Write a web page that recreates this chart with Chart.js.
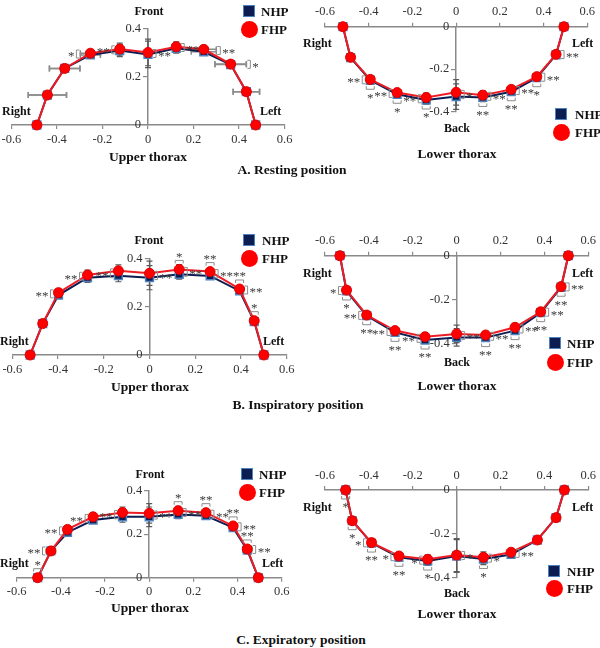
<!DOCTYPE html>
<html>
<head>
<meta charset="utf-8">
<script src="https://cdn.jsdelivr.net/npm/chart.js@4.4.1/dist/chart.umd.min.js"></script>
<style>
  body { margin: 0; background: #fff; }
  #fig { position: relative; width: 600px; height: 648px; overflow: hidden; font-family: "Liberation Serif", "Times New Roman", serif; }
  #fig canvas { position: absolute; }
  .t { position: absolute; white-space: nowrap; font-weight: bold; color: #111; line-height: 1; }
  .sq { position: absolute; width: 10px; height: 10px; background: #0b1d51; border: 1.5px solid #4f81bd; }
  .dot { position: absolute; width: 17px; height: 17px; border-radius: 50%; background: #ff0000; }
  .warm { position: absolute; left: -100px; top: -100px; font-family: "Liberation Serif"; }
</style>
</head>
<body>
<div id="fig"></div>
<span class="warm">0.2 *</span>
<script>
"use strict";

const seriesNames = ["NHP", "FHP"];
const xTicks = [-0.6, -0.4, -0.2, 0, 0.2, 0.4, 0.6];

// A. resting position
const restUpperX   = [-0.488, -0.442, -0.366, -0.253, -0.124, 0, 0.124, 0.245, 0.363, 0.432, 0.473];
const restUpperNhp = [0, 0.124, 0.234, 0.290, 0.308, 0.292, 0.317, 0.303, 0.250, 0.138, 0];
const restUpperFhp = [0, 0.124, 0.234, 0.297, 0.314, 0.300, 0.324, 0.313, 0.252, 0.138, 0];
const restUpperXErr = [0, 0.084, 0.067, 0.044, 0, 0, 0, 0.055, 0.069, 0.058, 0];
const restUpperYErr = [0, 0, 0.01, 0.015, 0.025, 0.055, 0.02, 0.015, 0.01, 0, 0];
const restUpperSig = [[3, "left", "*"], [4, "left", "**"], [5, "right", "**"], [6, "right", "**"], [7, "right", "**"], [8, "right", "*"]];

const restLowerX   = [-0.518, -0.483, -0.393, -0.270, -0.137, 0, 0.122, 0.252, 0.369, 0.457, 0.493];
const restLowerNhp = [0, -0.146, -0.252, -0.318, -0.345, -0.329, -0.333, -0.306, -0.240, -0.132, 0];
const restLowerFhp = [0, -0.144, -0.248, -0.310, -0.333, -0.309, -0.322, -0.295, -0.235, -0.130, 0];
const restLowerXErr = [0, 0, 0, 0, 0, 0, 0, 0, 0, 0, 0];
const restLowerYErr = [0, 0, 0, 0.01, 0.02, 0.06, 0.02, 0.015, 0.01, 0, 0];
const restLowerSig = [[2, "left", "**"], [2, "bottom", "*"], [3, "left", "**"], [3, "bottom", "*"], [4, "left", "**"], [4, "bottom", "*"],
  [5, "right", "*"], [6, "bottom", "**"], [6, "right", "**"], [7, "bottom", "**"], [7, "right", "**"], [8, "bottom", "*"], [8, "right", "**"], [9, "right", "**"]];

// B. inspiratory position
const inspUpperX   = [-0.522, -0.467, -0.398, -0.271, -0.136, 0, 0.130, 0.265, 0.394, 0.458, 0.500];
const inspUpperNhp = [0, 0.130, 0.248, 0.320, 0.328, 0.320, 0.334, 0.327, 0.265, 0.138, 0];
const inspUpperFhp = [0, 0.130, 0.258, 0.331, 0.348, 0.338, 0.354, 0.345, 0.273, 0.142, 0];
const inspUpperXErr = [0, 0.01, 0, 0, 0, 0, 0, 0, 0, 0.01, 0];
const inspUpperYErr = [0, 0, 0.01, 0.02, 0.025, 0.05, 0.02, 0.01, 0.01, 0, 0];
const inspUpperSig = [[2, "left", "**"], [3, "left", "**"], [4, "left", "**"], [5, "right", "**"], [6, "top", "*"], [6, "right", "**"],
  [7, "top", "**"], [7, "right", "**"], [8, "top", "**"], [8, "right", "**"], [9, "top", "*"]];

const inspLowerX   = [-0.532, -0.502, -0.410, -0.281, -0.144, 0, 0.132, 0.266, 0.383, 0.476, 0.509];
const inspLowerNhp = [0, -0.161, -0.274, -0.350, -0.385, -0.373, -0.374, -0.342, -0.260, -0.144, 0];
const inspLowerFhp = [0, -0.157, -0.271, -0.342, -0.370, -0.357, -0.362, -0.327, -0.256, -0.141, 0];
const inspLowerXErr = [0, 0, 0, 0, 0, 0, 0, 0, 0, 0, 0];
const inspLowerYErr = [0, 0, 0, 0.01, 0.015, 0.04, 0.015, 0.01, 0, 0, 0];
const inspLowerSig = [[1, "left", "*"], [1, "bottom", "*"], [2, "left", "**"], [2, "bottom", "**"], [3, "left", "**"], [3, "bottom", "**"],
  [4, "left", "**"], [4, "bottom", "**"], [5, "right", "**"], [6, "bottom", "**"], [6, "right", "**"], [7, "bottom", "**"], [7, "right", "**"],
  [8, "bottom", "**"], [8, "right", "**"], [9, "bottom", "**"], [9, "right", "**"]];

// C. expiratory position
const expUpperX   = [-0.505, -0.445, -0.370, -0.254, -0.121, 0, 0.131, 0.257, 0.380, 0.444, 0.494];
const expUpperNhp = [0, 0.123, 0.208, 0.265, 0.280, 0.280, 0.291, 0.285, 0.230, 0.127, 0];
const expUpperFhp = [0, 0.123, 0.222, 0.280, 0.300, 0.296, 0.308, 0.299, 0.238, 0.132, 0];
const expUpperXErr = [0, 0.02, 0, 0, 0, 0, 0, 0, 0, 0.02, 0];
const expUpperYErr = [0, 0, 0.01, 0.015, 0.025, 0.045, 0.02, 0.015, 0.01, 0, 0];
const expUpperSig = [[0, "top", "*"], [1, "left", "**"], [2, "left", "**"], [3, "left", "**"], [4, "left", "**"], [5, "right", "**"],
  [6, "top", "*"], [6, "right", "**"], [7, "top", "**"], [7, "right", "**"], [8, "top", "**"], [8, "right", "**"], [9, "top", "**"], [9, "right", "**"]];

const expLowerX   = [-0.506, -0.476, -0.388, -0.263, -0.132, 0, 0.122, 0.248, 0.368, 0.453, 0.491];
const expLowerNhp = [0, -0.140, -0.242, -0.307, -0.324, -0.301, -0.315, -0.294, -0.228, -0.126, 0];
const expLowerFhp = [0, -0.140, -0.240, -0.301, -0.316, -0.297, -0.307, -0.284, -0.228, -0.126, 0];
const expLowerXErr = [0, 0, 0, 0, 0, 0, 0, 0, 0, 0, 0];
const expLowerYErr = [0, 0, 0, 0.015, 0.02, 0.075, 0.025, 0.01, 0, 0, 0];
const expLowerSig = [[0, "bottom", "*"], [1, "bottom", "*"], [2, "left", "*"], [2, "bottom", "**"], [3, "left", "*"], [3, "bottom", "**"],
  [4, "left", "*"], [4, "bottom", "*"], [5, "right", "*"], [6, "bottom", "*"], [6, "right", "*"], [7, "right", "**"]];

const FONT = "'Liberation Serif', 'Times New Roman', serif";
const AXIS = "#8a8a8a";
const NAVY = "#0b1d51";
const RED = "#ff0000";
const AXIS_H = 22;

const fig = document.getElementById("fig");

function fmt(v) {
    return String(Math.round(v * 10) / 10);
}

function makePanel(p) {
    const [cl, ct, cw, ch] = p.canvas;
    const [bx0, bx1, by0, by1] = p.box;
    const canvas = document.createElement("canvas");
    canvas.width = cw;
    canvas.height = ch;
    canvas.style.left = cl + "px";
    canvas.style.top = ct + "px";
    fig.insertBefore(canvas, fig.firstChild);

    const pad = {
        left: bx0 - cl,
        right: cl + cw - bx1,
        top: by0 - ct - (p.upper ? 0 : AXIS_H),
        bottom: ct + ch - by1 - (p.upper ? AXIS_H : 0)
    };

    const pts = (ys) => p.xs.map((x, i) => ({ x: x, y: ys[i] }));

    const tickFont = { family: FONT, size: 12.5 };
    const marks = {
        id: "marks",
        beforeDatasetsDraw(chart) {
            const ctx = chart.ctx;
            const xs = chart.scales.x, ys = chart.scales.y;
            ctx.save();
            [p.nhp, p.fhp].forEach((s) => {
                p.xs.forEach((xv, i) => {
                    const px = xs.getPixelForValue(xv);
                    const py = ys.getPixelForValue(s[i]);
                    if (p.yErr[i] > 0) {
                        const e = Math.abs(ys.getPixelForValue(s[i] + p.yErr[i]) - py);
                        ctx.strokeStyle = "#5a5a5a";
                        ctx.lineWidth = 1.2;
                        ctx.beginPath();
                        ctx.moveTo(px, py - e); ctx.lineTo(px, py + e);
                        ctx.moveTo(px - 3, py - e); ctx.lineTo(px + 3, py - e);
                        ctx.moveTo(px - 3, py + e); ctx.lineTo(px + 3, py + e);
                        ctx.stroke();
                    }
                    if (p.xErr[i] > 0) {
                        const e = Math.abs(xs.getPixelForValue(xv + p.xErr[i]) - px);
                        ctx.strokeStyle = "#8c8c8c";
                        ctx.lineWidth = 1.5;
                        ctx.beginPath();
                        ctx.moveTo(px - e, py); ctx.lineTo(px + e, py);
                        ctx.moveTo(px - e, py - 3); ctx.lineTo(px - e, py + 3);
                        ctx.moveTo(px + e, py - 3); ctx.lineTo(px + e, py + 3);
                        ctx.stroke();
                    }
                });
            });
            ctx.restore();
        },
        afterDatasetsDraw(chart) {
            const ctx = chart.ctx;
            const xs = chart.scales.x, ys = chart.scales.y;
            ctx.save();
            ctx.font = "13px " + FONT;
            ctx.fillStyle = "#3a3a3a";
            ctx.strokeStyle = "#8c8c8c";
            ctx.lineWidth = 1;
            p.sig.forEach(([i, side, txt]) => {
                const px = xs.getPixelForValue(p.xs[i]);
                const pa = ys.getPixelForValue(p.nhp[i]);
                const pb = ys.getPixelForValue(p.fhp[i]);
                const lo = Math.min(pa, pb), hi = Math.max(pa, pb);
                ctx.beginPath();
                if (side === "left" || side === "right") {
                    const ex = p.xErr[i] ? Math.abs(xs.getPixelForValue(p.xs[i] + p.xErr[i]) - px) : 0;
                    const dir = side === "left" ? -1 : 1;
                    const bx = px + dir * Math.max(8, ex + 4);
                    const mid = (lo + hi) / 2;
                    const half = Math.max((hi - lo) / 2 + 2, 4);
                    ctx.moveTo(bx - dir * 3, mid - half);
                    ctx.lineTo(bx, mid - half);
                    ctx.lineTo(bx, mid + half);
                    ctx.lineTo(bx - dir * 3, mid + half);
                    ctx.stroke();
                    ctx.textAlign = dir < 0 ? "right" : "left";
                    ctx.textBaseline = "middle";
                    ctx.fillText(txt, bx + dir * 2, mid + 3);
                } else {
                    const ey = p.yErr[i] ? Math.abs(ys.getPixelForValue(p.fhp[i] + p.yErr[i]) - pb) : 0;
                    const dir = side === "top" ? -1 : 1;
                    const edge = dir < 0 ? lo : hi;
                    const by = edge + dir * Math.max(9, ey + 4);
                    ctx.moveTo(px - 4, by - dir * 3);
                    ctx.lineTo(px - 4, by);
                    ctx.lineTo(px + 4, by);
                    ctx.lineTo(px + 4, by - dir * 3);
                    ctx.stroke();
                    ctx.textAlign = "center";
                    ctx.textBaseline = "middle";
                    ctx.fillText(txt, px, by + dir * 6 + 3);
                }
            });
            ctx.restore();
        }
    };

    return new Chart(canvas.getContext("2d"), {
        type: "scatter",
        data: {
            datasets: [{
                label: seriesNames[1],
                data: pts(p.fhp),
                showLine: true,
                borderColor: "#ee1c25",
                borderWidth: 2,
                pointStyle: "circle",
                pointRadius: 5,
                pointBackgroundColor: RED,
                pointBorderColor: "#e00000",
                pointBorderWidth: 1,
                tension: 0,
                clip: false,
                order: 0
            }, {
                label: seriesNames[0],
                data: pts(p.nhp),
                showLine: true,
                borderColor: NAVY,
                borderWidth: 2,
                pointStyle: "rect",
                pointRadius: 5.5,
                pointBackgroundColor: NAVY,
                pointBorderColor: "#4f81bd",
                pointBorderWidth: 1.5,
                tension: 0,
                clip: false,
                order: 1
            }]
        },
        options: {
            responsive: false,
            animation: false,
            events: [],
            layout: { padding: pad },
            plugins: { legend: { display: false }, tooltip: { enabled: false } },
            scales: {
                x: {
                    type: "linear",
                    position: p.upper ? "bottom" : "top",
                    min: xTicks[0],
                    max: xTicks[xTicks.length - 1],
                    afterBuildTicks: (s) => { s.ticks = xTicks.map((v) => ({ value: v })); },
                    afterFit: (s) => { s.height = AXIS_H; s.paddingLeft = 0; s.paddingRight = 0; },
                    border: { color: AXIS, width: 1.5 },
                    grid: { drawOnChartArea: false, color: AXIS, tickLength: 4, lineWidth: 1.2 },
                    ticks: { padding: 3, color: "#333", font: tickFont, maxRotation: 0, autoSkip: false, callback: fmt }
                },
                y: {
                    type: "linear",
                    position: "center",
                    min: p.upper ? 0 : -0.4,
                    max: p.upper ? 0.4 : 0,
                    afterBuildTicks: (s) => { s.ticks = p.yTicks.map((v) => ({ value: v })); },
                    afterFit: (s) => { s.paddingTop = 0; s.paddingBottom = 0; },
                    border: { color: AXIS, width: 1.5 },
                    grid: { drawOnChartArea: false, color: AXIS, tickLength: 4, lineWidth: 1.2 },
                    ticks: { padding: 3, color: "#333", font: tickFont, autoSkip: false, callback: fmt }
                }
            }
        },
        plugins: [marks]
    });
}

const upperTicks = [0, 0.2, 0.4];
const lowerTicks = [-0.4, -0.2, 0];

const panels = [
    { upper: true, xs: restUpperX, nhp: restUpperNhp, fhp: restUpperFhp, xErr: restUpperXErr, yErr: restUpperYErr, sig: restUpperSig, yTicks: upperTicks,
      canvas: [0, 0, 300, 150], box: [11.4, 284.6, 28.3, 125] },
    { upper: false, xs: restLowerX, nhp: restLowerNhp, fhp: restLowerFhp, xErr: restLowerXErr, yErr: restLowerYErr, sig: restLowerSig, yTicks: lowerTicks,
      canvas: [300, 0, 300, 150], box: [325, 587.3, 26.7, 111.7] },
    { upper: true, xs: inspUpperX, nhp: inspUpperNhp, fhp: inspUpperFhp, xErr: inspUpperXErr, yErr: inspUpperYErr, sig: inspUpperSig, yTicks: upperTicks,
      canvas: [0, 215, 300, 165], box: [12.3, 286.7, 258.3, 355] },
    { upper: false, xs: inspLowerX, nhp: inspLowerNhp, fhp: inspLowerFhp, xErr: inspLowerXErr, yErr: inspLowerYErr, sig: inspLowerSig, yTicks: lowerTicks,
      canvas: [300, 215, 300, 165], box: [325, 588.3, 255.7, 343.3] },
    { upper: true, xs: expUpperX, nhp: expUpperNhp, fhp: expUpperFhp, xErr: expUpperXErr, yErr: expUpperYErr, sig: expUpperSig, yTicks: upperTicks,
      canvas: [0, 440, 300, 165], box: [16.7, 281.7, 490.7, 577.7] },
    { upper: false, xs: expLowerX, nhp: expLowerNhp, fhp: expLowerFhp, xErr: expLowerXErr, yErr: expLowerYErr, sig: expLowerSig, yTicks: lowerTicks,
      canvas: [300, 440, 300, 170], box: [325, 588.3, 490, 577.7] }
];

function label(text, x, y, size, align) {
    const d = document.createElement("div");
    d.className = "t";
    d.textContent = text;
    d.style.fontSize = size + "px";
    d.style.left = x + "px";
    d.style.top = y + "px";
    d.style.transform = align === "left" ? "translate(0,-50%)" : "translate(-50%,-50%)";
    fig.appendChild(d);
}

function legend(sx, sy, cy, tx) {
    const sq = document.createElement("div");
    sq.className = "sq";
    sq.style.left = (sx - 6.5) + "px";
    sq.style.top = (sy - 6.5) + "px";
    fig.appendChild(sq);
    const dot = document.createElement("div");
    dot.className = "dot";
    dot.style.left = (sx - 8.5) + "px";
    dot.style.top = (cy - 8.5) + "px";
    fig.appendChild(dot);
    label(seriesNames[0], tx, sy, 13, "left");
    label(seriesNames[1], tx, cy, 13, "left");
}

// row A
label("Front", 149, 11, 12, "center");
label("Right", 2, 111, 12, "left");
label("Left", 260, 111, 12, "left");
label("Upper thorax", 148, 157, 13.5, "center");
legend(249, 11, 29, 261);
label("Right", 303, 43, 12, "left");
label("Left", 572, 43, 12, "left");
label("Back", 457, 128, 12, "center");
label("Lower thorax", 457, 154, 13.5, "center");
legend(561, 114, 132, 575);
label("A. Resting position", 292, 170, 13.5, "center");

// row B
label("Front", 149, 240, 12, "center");
label("Right", 0, 341, 12, "left");
label("Left", 263, 341, 12, "left");
label("Upper thorax", 150, 387, 13.5, "center");
legend(249, 240, 258, 262);
label("Right", 303, 273, 12, "left");
label("Left", 572, 273, 12, "left");
label("Back", 457, 362, 12, "center");
label("Lower thorax", 457, 386, 13.5, "center");
legend(555, 343, 362, 567);
label("B. Inspiratory position", 298, 405, 13.5, "center");

// row C
label("Front", 150, 474, 12, "center");
label("Right", 0, 563, 12, "left");
label("Left", 262, 563, 12, "left");
label("Upper thorax", 150, 608, 13.5, "center");
legend(247, 474, 492, 259);
label("Right", 303, 507, 12, "left");
label("Left", 572, 507, 12, "left");
label("Back", 457, 593, 12, "center");
label("Lower thorax", 457, 614, 13.5, "center");
legend(554, 571, 588, 567);
label("C. Expiratory position", 301, 640, 13.5, "center");

// canvas text needs the serif face loaded first
Promise.all([
    document.fonts.load("13px 'Liberation Serif'"),
    document.fonts.load("bold 13px 'Liberation Serif'")
]).then(() => panels.forEach(makePanel), () => panels.forEach(makePanel));
</script>
</body>
</html>
